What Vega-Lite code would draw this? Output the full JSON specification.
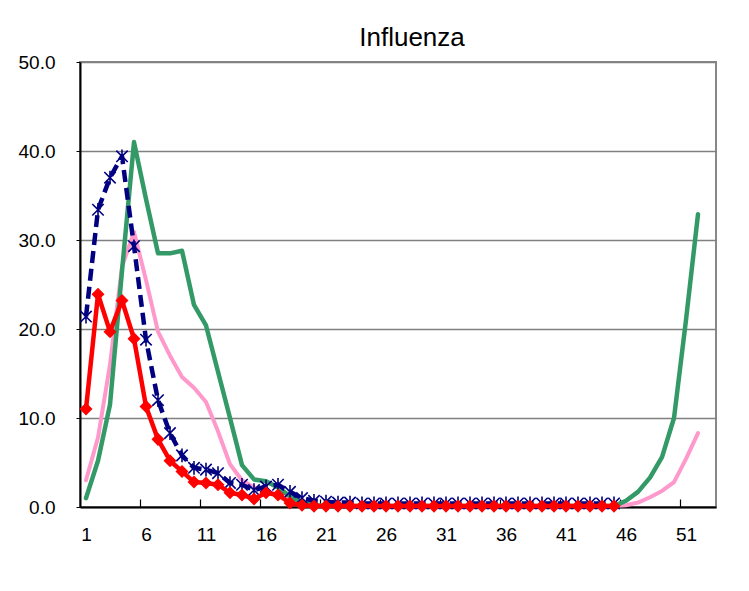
{
  "$schema": "https://vega.github.io/schema/vega-lite/v6.json",
  "width": 636,
  "height": 445,
  "autosize": "none",
  "padding": {"left": 80, "top": 62, "right": 33, "bottom": 84},
  "background": "white",
  "title": {"text": "Influenza", "font": "Liberation Sans, Arial, sans-serif", "fontSize": 26, "fontWeight": "normal", "color": "black", "anchor": "middle", "dx": 14, "offset": 2},
  "config": {"view": {"stroke": "#888888", "strokeWidth": 2}},
  "data": {"values": [
    {"week": 1, "green": 1.0, "pink": 3.0, "navy": 21.4, "red": 11.0},
    {"week": 2, "green": 5.2, "pink": 7.8, "navy": 33.4, "red": 23.9},
    {"week": 3, "green": 11.5, "pink": 16.0, "navy": 37.0, "red": 19.7},
    {"week": 4, "green": 26.5, "pink": 27.0, "navy": 39.4, "red": 23.2},
    {"week": 5, "green": 41.0, "pink": 30.9, "navy": 29.3, "red": 18.9},
    {"week": 6, "green": 34.6, "pink": 25.5, "navy": 18.8, "red": 11.3},
    {"week": 7, "green": 28.5, "pink": 19.7, "navy": 12.0, "red": 7.6},
    {"week": 8, "green": 28.5, "pink": 17.0, "navy": 8.3, "red": 5.2},
    {"week": 9, "green": 28.8, "pink": 14.6, "navy": 5.8, "red": 4.0},
    {"week": 10, "green": 22.7, "pink": 13.4, "navy": 4.4, "red": 2.8},
    {"week": 11, "green": 20.4, "pink": 11.8, "navy": 4.2, "red": 2.7},
    {"week": 12, "green": 15.2, "pink": 8.5, "navy": 3.8, "red": 2.5},
    {"week": 13, "green": 10.0, "pink": 4.8, "navy": 2.7, "red": 1.6},
    {"week": 14, "green": 4.7, "pink": 3.0, "navy": 2.5, "red": 1.35},
    {"week": 15, "green": 3.1, "pink": 2.2, "navy": 1.9, "red": 0.9},
    {"week": 16, "green": 2.9, "pink": 1.8, "navy": 2.3, "red": 1.6},
    {"week": 17, "green": 2.2, "pink": 1.3, "navy": 2.5, "red": 1.35},
    {"week": 18, "green": 1.2, "pink": 0.8, "navy": 1.7, "red": 0.45},
    {"week": 19, "green": 0.5, "pink": 0.4, "navy": 1.0, "red": 0.2},
    {"week": 20, "green": 0.2, "pink": 0.2, "navy": 0.7, "red": 0.1},
    {"week": 21, "green": 0.1, "pink": 0.1, "navy": 0.6, "red": 0.1},
    {"week": 22, "green": 0.1, "pink": 0.1, "navy": 0.5, "red": 0.1},
    {"week": 23, "green": 0.1, "pink": 0.1, "navy": 0.5, "red": 0.1},
    {"week": 24, "green": 0.1, "pink": 0.1, "navy": 0.4, "red": 0.1},
    {"week": 25, "green": 0.1, "pink": 0.1, "navy": 0.4, "red": 0.1},
    {"week": 26, "green": 0.1, "pink": 0.1, "navy": 0.4, "red": 0.1},
    {"week": 27, "green": 0.1, "pink": 0.1, "navy": 0.4, "red": 0.1},
    {"week": 28, "green": 0.1, "pink": 0.1, "navy": 0.4, "red": 0.1},
    {"week": 29, "green": 0.1, "pink": 0.1, "navy": 0.4, "red": 0.1},
    {"week": 30, "green": 0.1, "pink": 0.1, "navy": 0.4, "red": 0.1},
    {"week": 31, "green": 0.1, "pink": 0.1, "navy": 0.4, "red": 0.1},
    {"week": 32, "green": 0.1, "pink": 0.1, "navy": 0.4, "red": 0.1},
    {"week": 33, "green": 0.1, "pink": 0.1, "navy": 0.4, "red": 0.1},
    {"week": 34, "green": 0.1, "pink": 0.1, "navy": 0.4, "red": 0.1},
    {"week": 35, "green": 0.1, "pink": 0.1, "navy": 0.4, "red": 0.1},
    {"week": 36, "green": 0.1, "pink": 0.1, "navy": 0.4, "red": 0.1},
    {"week": 37, "green": 0.1, "pink": 0.1, "navy": 0.4, "red": 0.1},
    {"week": 38, "green": 0.1, "pink": 0.1, "navy": 0.4, "red": 0.1},
    {"week": 39, "green": 0.1, "pink": 0.1, "navy": 0.4, "red": 0.1},
    {"week": 40, "green": 0.1, "pink": 0.1, "navy": 0.4, "red": 0.1},
    {"week": 41, "green": 0.1, "pink": 0.1, "navy": 0.4, "red": 0.1},
    {"week": 42, "green": 0.1, "pink": 0.1, "navy": 0.4, "red": 0.1},
    {"week": 43, "green": 0.1, "pink": 0.1, "navy": 0.4, "red": 0.1},
    {"week": 44, "green": 0.1, "pink": 0.1, "navy": 0.4, "red": 0.1},
    {"week": 45, "green": 0.1, "pink": 0.1, "navy": 0.4, "red": 0.1},
    {"week": 46, "green": 0.7, "pink": 0.2, "navy": null, "red": null},
    {"week": 47, "green": 1.7, "pink": 0.5, "navy": null, "red": null},
    {"week": 48, "green": 3.3, "pink": 1.1, "navy": null, "red": null},
    {"week": 49, "green": 5.6, "pink": 1.8, "navy": null, "red": null},
    {"week": 50, "green": 10.0, "pink": 2.8, "navy": null, "red": null},
    {"week": 51, "green": 21.0, "pink": 5.4, "navy": null, "red": null},
    {"week": 52, "green": 32.9, "pink": 8.3, "navy": null, "red": null}
  ]},
  "resolve": {"axis": {"x": "independent"}},
  "layer": [
    {
      "mark": {"type": "line", "color": "#FF99CC", "strokeWidth": 4, "strokeCap": "round", "strokeJoin": "round"},
      "encoding": {
        "x": {"field": "week", "type": "quantitative", "scale": {"domain": [0.5, 53.5], "nice": false, "zero": false},
          "axis": {"orient": "bottom", "values": [1, 6, 11, 16, 21, 26, 31, 36, 41, 46, 51], "ticks": false, "grid": false, "domainColor": "black", "domainWidth": 2, "labelFont": "Liberation Sans, Arial, sans-serif", "labelFontSize": 19, "labelColor": "black", "labelPadding": 18, "labelFlush": false, "title": null}},
        "y": {"field": "pink", "type": "quantitative", "scale": {"domain": [0, 50], "nice": false},
          "axis": {"values": [0, 10, 20, 30, 40, 50], "format": ".1f", "grid": true, "gridColor": "#808080", "gridWidth": 1.3, "domainColor": "black", "domainWidth": 2, "tickColor": "black", "tickSize": 4, "labelFont": "Liberation Sans, Arial, sans-serif", "labelFontSize": 19, "labelColor": "black", "labelPadding": 21, "labelFlush": false, "title": null}}
      }
    },
    {
      "mark": {"type": "line", "color": "#339966", "strokeWidth": 4.5, "strokeCap": "round", "strokeJoin": "round"},
      "encoding": {
        "x": {"field": "week", "type": "quantitative", "scale": {"domain": [0.5, 53.5], "nice": false, "zero": false},
          "axis": {"orient": "bottom", "values": [5.5, 10.5, 15.5, 20.5, 25.5, 30.5, 35.5, 40.5, 45.5, 50.5], "labels": false, "domain": false, "grid": false, "ticks": true, "tickSize": 8, "offset": -8, "tickColor": "black", "tickWidth": 1.2, "title": null}},
        "y": {"field": "green", "type": "quantitative", "scale": {"domain": [0, 50], "nice": false}, "title": null}
      }
    },
    {
      "mark": {"type": "line", "color": "#000080", "strokeWidth": 4.5, "strokeDash": [12, 6], "strokeCap": "butt", "strokeJoin": "round"},
      "encoding": {
        "x": {"field": "week", "type": "quantitative", "scale": {"domain": [0.5, 53.5], "nice": false, "zero": false}, "axis": null},
        "y": {"field": "navy", "type": "quantitative", "scale": {"domain": [0, 50], "nice": false}, "title": null}
      }
    },
    {
      "mark": {"type": "point", "shape": "M-1,-1L1,1M-1,1L1,-1M0,-1.2L0,1.2", "filled": false, "stroke": "#000080", "strokeWidth": 1.6, "size": 130, "opacity": 1},
      "encoding": {
        "x": {"field": "week", "type": "quantitative", "scale": {"domain": [0.5, 53.5], "nice": false, "zero": false}, "axis": null},
        "y": {"field": "navy", "type": "quantitative", "scale": {"domain": [0, 50], "nice": false}, "title": null}
      }
    },
    {
      "mark": {"type": "line", "color": "#FF0000", "strokeWidth": 4.5, "strokeCap": "round", "strokeJoin": "round"},
      "encoding": {
        "x": {"field": "week", "type": "quantitative", "scale": {"domain": [0.5, 53.5], "nice": false, "zero": false}, "axis": null},
        "y": {"field": "red", "type": "quantitative", "scale": {"domain": [0, 50], "nice": false}, "title": null}
      }
    },
    {
      "mark": {"type": "point", "shape": "diamond", "filled": true, "color": "#FF0000", "size": 170, "opacity": 1},
      "encoding": {
        "x": {"field": "week", "type": "quantitative", "scale": {"domain": [0.5, 53.5], "nice": false, "zero": false}, "axis": null},
        "y": {"field": "red", "type": "quantitative", "scale": {"domain": [0, 50], "nice": false}, "title": null}
      }
    }
  ]
}
